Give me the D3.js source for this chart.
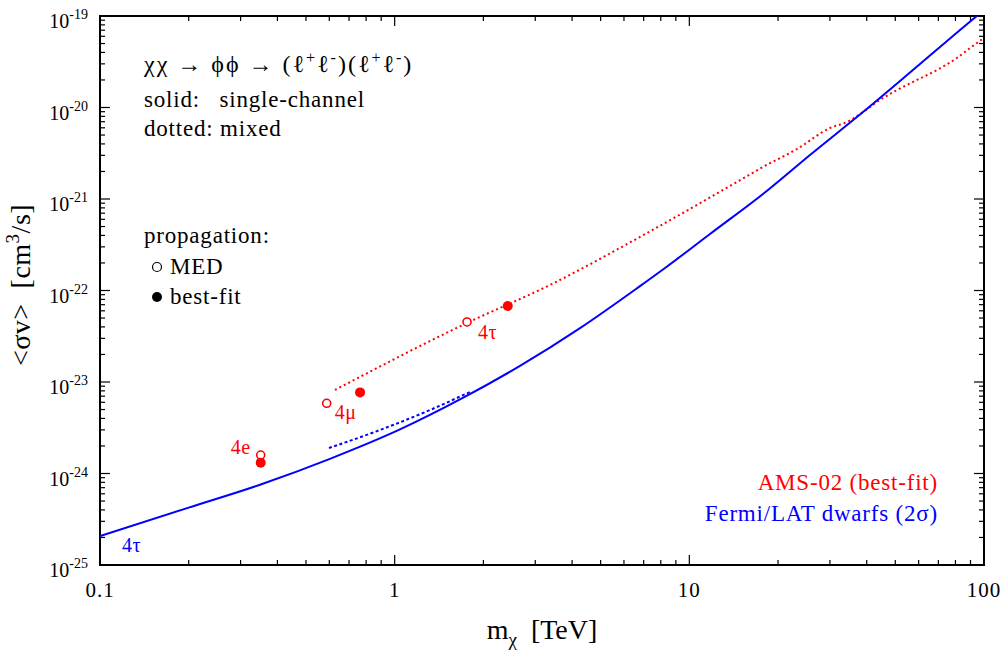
<!DOCTYPE html>
<html><head><meta charset="utf-8">
<script src="https://cdn.jsdelivr.net/npm/d3@7"></script>
<style>
html,body{margin:0;padding:0;background:#fff;}
svg text{font-family:"Liberation Serif","Times New Roman",serif;}
</style></head>
<body><svg id="c" width="1004" height="652"></svg>
<script>
// ---- data ----
const fermiMass = [0.1,0.2,0.349,0.603,1.042,1.666,2.663,4.256,6.80,8.27,11.75,18.49,25.67,38.85,60.65,91.06,100];
const fermiSigv = [2.07e-25,4.24e-25,7.53e-25,1.445e-24,3.03e-24,6.44e-24,1.50e-23,3.88e-23,1.117e-22,1.762e-22,4.145e-22,1.254e-21,3.026e-21,8.93e-21,2.99e-20,9.04e-20,1.16e-19];
const fermiMixMass = [0.5985,0.892,1.318,1.8];
const fermiMixSigv = [1.90e-24,2.99e-24,4.94e-24,7.78e-24];
const amsMixMass = [0.627,1.760,3.367,6.80,13.74,17.78,23.20,30.02,34.28,38.85,44.36,50.66,59.23,69.26,80.97,89.67,100];
const amsMixSigv = [8.18e-24,4.42e-23,1.15e-22,3.85e-22,1.387e-21,2.24e-21,3.52e-21,5.97e-21,6.94e-21,8.93e-21,1.21e-20,1.55e-20,2.00e-20,2.57e-20,3.48e-20,4.47e-20,5.75e-20];
const channels = ["4e","4μ","4τ"];
const medMass = [0.351,0.588,1.76];
const medSigv = [1.59e-24,5.85e-24,4.53e-23];
const bestMass = [0.351,0.763,2.42];
const bestSigv = [1.31e-24,7.7e-24,6.78e-23];
const xTickVals = [0.1,1,10,100];
const xTickLabels = ["0.1","1","10","100"];
const yTickExps = [-25,-24,-23,-22,-21,-20,-19];

// ---- layout ----
const L=100,R=984,T=16,B=565;
const svg=d3.select("#c");
const x=d3.scaleLog().domain([0.1,100]).range([L,R]);
const y=d3.scaleLog().domain([1e-25,1e-19]).range([B,T]);
const RED="#ff0000", BLUE="#0000ff";

svg.append("defs").append("clipPath").attr("id","clip")
  .append("rect").attr("x",L).attr("y",T).attr("width",R-L).attr("height",B-T);

// ticks
const tg=svg.append("g").attr("stroke","#000").attr("stroke-width",1.2);
const xMinor=[], yMinor=[];
for(let d=0.1; d<100; d*=10){ for(let k=2;k<=9;k++) xMinor.push(d*k); }
for(let e=-25;e<-19;e++){ for(let k=2;k<=9;k++) yMinor.push(k*Math.pow(10,e)); }
const yMajor=yTickExps.map(e=>Math.pow(10,e));
xTickVals.forEach(v=>{
  tg.append("line").attr("x1",x(v)).attr("x2",x(v)).attr("y1",B).attr("y2",B-10);
  tg.append("line").attr("x1",x(v)).attr("x2",x(v)).attr("y1",T).attr("y2",T+10);
});
xMinor.forEach(v=>{
  tg.append("line").attr("x1",x(v)).attr("x2",x(v)).attr("y1",B).attr("y2",B-5);
  tg.append("line").attr("x1",x(v)).attr("x2",x(v)).attr("y1",T).attr("y2",T+5);
});
yMajor.forEach(v=>{
  tg.append("line").attr("x1",L).attr("x2",L+10).attr("y1",y(v)).attr("y2",y(v));
  tg.append("line").attr("x1",R).attr("x2",R-10).attr("y1",y(v)).attr("y2",y(v));
});
yMinor.forEach(v=>{
  tg.append("line").attr("x1",L).attr("x2",L+5).attr("y1",y(v)).attr("y2",y(v));
  tg.append("line").attr("x1",R).attr("x2",R-5).attr("y1",y(v)).attr("y2",y(v));
});

// frame
svg.append("rect").attr("x",L).attr("y",T).attr("width",R-L).attr("height",B-T)
  .attr("fill","none").attr("stroke","#000").attr("stroke-width",2);

// tick labels
xTickVals.forEach((v,i)=>{
  svg.append("text").attr("x",x(v)).attr("y",B+32).attr("text-anchor","middle")
    .attr("font-size",21).attr("letter-spacing",1).text(xTickLabels[i]);
});
yTickExps.forEach(e=>{
  const t=svg.append("text").attr("x",L-12).attr("y",y(Math.pow(10,e))+12)
    .attr("text-anchor","end").attr("font-size",20);
  t.append("tspan").text("10");
  t.append("tspan").attr("dy",-9).attr("font-size",14).text(String(e));
});

// axis titles
const xt=svg.append("text").attr("x",542).attr("y",639).attr("text-anchor","middle")
  .attr("font-size",28).attr("xml:space","preserve");
xt.append("tspan").text("m");
xt.append("tspan").attr("dy",7).attr("font-size",19).text("χ");
xt.append("tspan").attr("dy",-7).text("  [TeV]");
const yt=svg.append("text").attr("transform","translate(30,285) rotate(-90)").attr("text-anchor","middle")
  .attr("font-size",28).attr("letter-spacing",0.5).attr("xml:space","preserve");
yt.append("tspan").text("<σv>  [cm");
yt.append("tspan").attr("dy",-11).attr("font-size",19).text("3");
yt.append("tspan").attr("dy",11).text("/s]");

// curves
const line=d3.line().x(d=>x(d[0])).y(d=>y(d[1])).curve(d3.curveMonotoneX);
const cg=svg.append("g").attr("clip-path","url(#clip)").attr("fill","none");
cg.append("path").datum(d3.zip(amsMixMass,amsMixSigv)).attr("d",line)
  .attr("stroke",RED).attr("stroke-width",2).attr("stroke-dasharray","2,3");
cg.append("path").datum(d3.zip(fermiMixMass,fermiMixSigv)).attr("d",line)
  .attr("stroke",BLUE).attr("stroke-width",2).attr("stroke-dasharray","3,2.5");
cg.append("path").datum(d3.zip(fermiMass,fermiSigv)).attr("d",line)
  .attr("stroke",BLUE).attr("stroke-width",2);

// points
svg.selectAll(".med").data(d3.zip(medMass,medSigv)).join("circle")
  .attr("cx",d=>x(d[0])).attr("cy",d=>y(d[1])).attr("r",4)
  .attr("fill","#fff").attr("stroke",RED).attr("stroke-width",1.6);
svg.selectAll(".best").data(d3.zip(bestMass,bestSigv)).join("circle")
  .attr("cx",d=>x(d[0])).attr("cy",d=>y(d[1])).attr("r",5)
  .attr("fill",RED);

// channel labels
const lblOff=[[-30,-1],[8,16],[11,17]];
channels.forEach((c,i)=>{
  svg.append("text").attr("x",x(medMass[i])+lblOff[i][0]).attr("y",y(medSigv[i])+lblOff[i][1])
    .attr("fill",RED).attr("font-size",20).attr("letter-spacing",0.5).text(c);
});
svg.append("text").attr("x",122).attr("y",552).attr("fill",BLUE).attr("font-size",20).attr("letter-spacing",0.5).text("4τ");

// legend text
const FS=23, LS=0.8;
const t1=svg.append("text").attr("x",144).attr("y",72).attr("font-size",24).attr("letter-spacing",2);
t1.append("tspan").text("χχ → ϕϕ → (ℓ");
t1.append("tspan").attr("dy",-9).attr("font-size",16).text("+");
t1.append("tspan").attr("dy",9).text("ℓ");
t1.append("tspan").attr("dy",-9).attr("font-size",16).text("-");
t1.append("tspan").attr("dy",9).text(")(ℓ");
t1.append("tspan").attr("dy",-9).attr("font-size",16).text("+");
t1.append("tspan").attr("dy",9).text("ℓ");
t1.append("tspan").attr("dy",-9).attr("font-size",16).text("-");
t1.append("tspan").attr("dy",9).text(")");
svg.append("text").attr("x",144).attr("y",107).attr("font-size",FS).attr("letter-spacing",LS).attr("xml:space","preserve").text("solid:   single-channel");
svg.append("text").attr("x",144).attr("y",136).attr("font-size",FS).attr("letter-spacing",LS).text("dotted: mixed");
svg.append("text").attr("x",144).attr("y",243).attr("font-size",FS).attr("letter-spacing",LS).text("propagation:");
svg.append("circle").attr("cx",157).attr("cy",267).attr("r",4.5).attr("fill","none").attr("stroke","#000").attr("stroke-width",1.2);
svg.append("text").attr("x",170).attr("y",274).attr("font-size",FS).attr("letter-spacing",LS).text("MED");
svg.append("circle").attr("cx",157).attr("cy",297).attr("r",5).attr("fill","#000");
svg.append("text").attr("x",170).attr("y",304).attr("font-size",FS).attr("letter-spacing",LS).text("best-fit");

svg.append("text").attr("x",938).attr("y",490).attr("text-anchor","end").attr("fill",RED).attr("font-size",FS).attr("letter-spacing",LS).text("AMS-02 (best-fit)");
svg.append("text").attr("x",938).attr("y",521).attr("text-anchor","end").attr("fill",BLUE).attr("font-size",FS).attr("letter-spacing",LS).text("Fermi/LAT dwarfs (2σ)");
</script></body></html>
